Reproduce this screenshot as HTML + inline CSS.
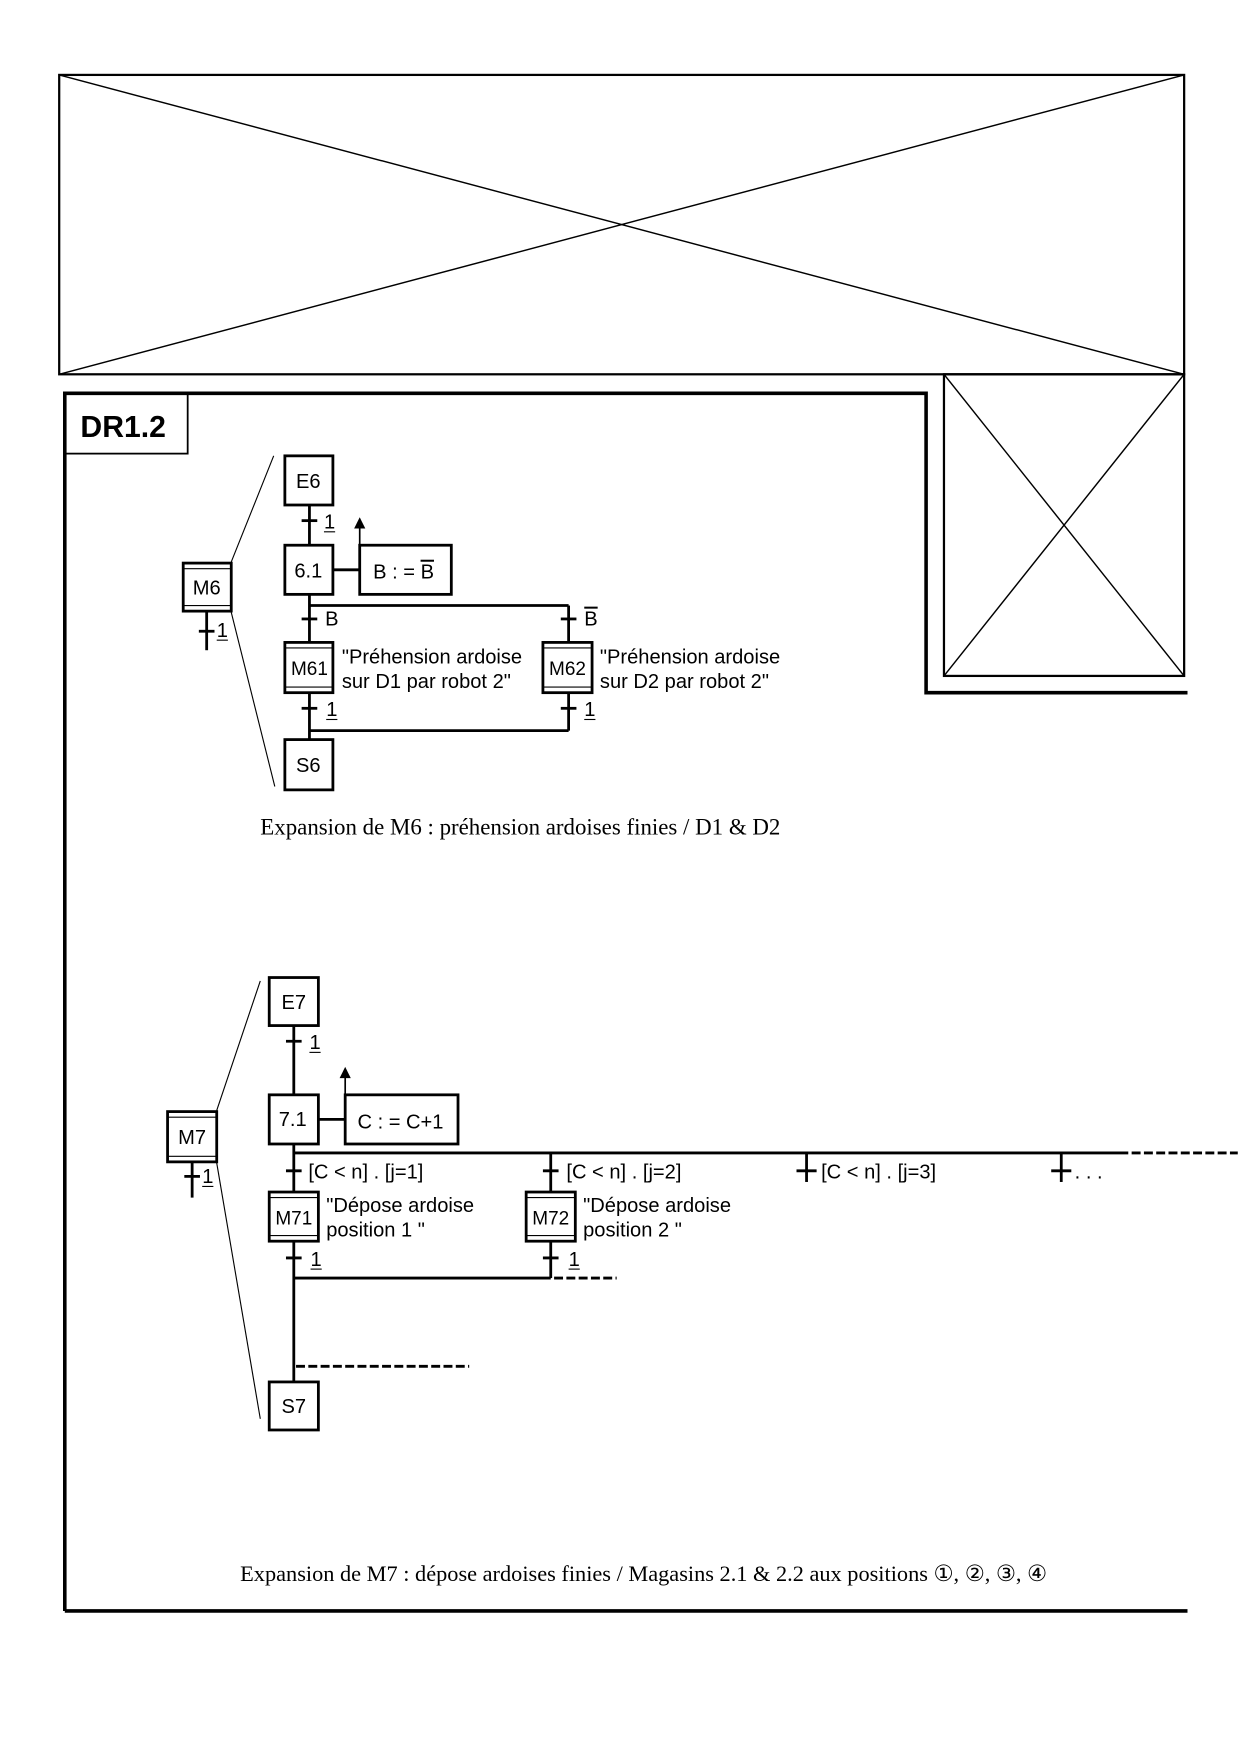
<!DOCTYPE html>
<html><head><meta charset="utf-8"><style>
html,body{margin:0;padding:0;background:#fff}
svg{display:block}
text{font-family:"Liberation Sans",sans-serif;fill:#000}
.s{font-family:"Liberation Serif",serif}
.ov{text-decoration:overline}
</style></head><body>
<svg width="1240" height="1754" viewBox="0 0 1110 1570" xmlns="http://www.w3.org/2000/svg">
<g fill="none" stroke="#000">
<rect x="53" y="67" width="1007" height="268" stroke-width="2"/>
<line x1="53" y1="67" x2="1060" y2="335" stroke-width="1.3"/>
<line x1="53" y1="335" x2="1060" y2="67" stroke-width="1.3"/>
<rect x="845" y="335" width="215" height="270" stroke-width="2"/>
<line x1="845" y1="335" x2="1060" y2="605" stroke-width="1.3"/>
<line x1="845" y1="605" x2="1060" y2="335" stroke-width="1.3"/>
<polyline points="58,1442 58,352 829,352 829,620 1063,620" stroke-width="3.2"/>
<line x1="58" y1="1442" x2="1063" y2="1442" stroke-width="3.2"/>
<rect x="58" y="352" width="110" height="54" stroke-width="1.6"/>

<g stroke-width="2.5">
<line x1="277" y1="452" x2="277" y2="488"/>
<line x1="270" y1="466" x2="284" y2="466"/>
<line x1="298" y1="510" x2="322" y2="510"/>
<line x1="277" y1="532" x2="277" y2="575"/>
<line x1="277" y1="542" x2="509" y2="542"/>
<line x1="509" y1="542" x2="509" y2="575"/>
<line x1="270" y1="554" x2="284" y2="554"/>
<line x1="502" y1="554" x2="516" y2="554"/>
<line x1="277" y1="620" x2="277" y2="662"/>
<line x1="509" y1="620" x2="509" y2="654"/>
<line x1="277" y1="654" x2="509" y2="654"/>
<line x1="270" y1="634" x2="284" y2="634"/>
<line x1="502" y1="634" x2="516" y2="634"/>
<rect x="255" y="408" width="43" height="44"/>
<rect x="255" y="488" width="43" height="44"/>
<rect x="322" y="488" width="82" height="44"/>
<rect x="255" y="575" width="43" height="45"/>
<rect x="486" y="575" width="44" height="45"/>
<rect x="255" y="662" width="43" height="45"/>
<rect x="164" y="504" width="43" height="43"/>
<line x1="185" y1="547" x2="185" y2="582"/>
<line x1="178" y1="565" x2="192" y2="565"/>
</g>
<line x1="322" y1="488" x2="322" y2="470" stroke-width="1.5"/>
<g stroke-width="1">
<line x1="255" y1="580" x2="298" y2="580"/><line x1="255" y1="615" x2="298" y2="615"/>
<line x1="486" y1="580" x2="530" y2="580"/><line x1="486" y1="615" x2="530" y2="615"/>
<line x1="164" y1="509" x2="207" y2="509"/><line x1="164" y1="542" x2="207" y2="542"/>
<line x1="207" y1="503" x2="245" y2="408"/><line x1="207" y1="548" x2="246" y2="704"/>
</g>

<g stroke-width="2.5">
<line x1="263" y1="918" x2="263" y2="980"/>
<line x1="256" y1="932" x2="270" y2="932"/>
<line x1="285" y1="1002" x2="309" y2="1002"/>
<line x1="263" y1="1024" x2="263" y2="1067"/>
<line x1="263" y1="1032" x2="1010" y2="1032"/>
<line x1="1013" y1="1032" x2="1108" y2="1032" stroke-dasharray="8,3"/>
<line x1="493" y1="1032" x2="493" y2="1067"/>
<line x1="722" y1="1032" x2="722" y2="1058"/>
<line x1="950" y1="1032" x2="950" y2="1058"/>
<line x1="256" y1="1048" x2="270" y2="1048"/>
<line x1="486" y1="1048" x2="500" y2="1048"/>
<line x1="713" y1="1048" x2="731" y2="1048"/>
<line x1="941" y1="1048" x2="959" y2="1048"/>
<line x1="263" y1="1111" x2="263" y2="1237"/>
<line x1="493" y1="1111" x2="493" y2="1144"/>
<line x1="256" y1="1126" x2="270" y2="1126"/>
<line x1="486" y1="1126" x2="500" y2="1126"/>
<line x1="263" y1="1144" x2="493" y2="1144"/>
<line x1="496" y1="1144" x2="552" y2="1144" stroke-dasharray="8,3"/>
<line x1="265" y1="1223" x2="420" y2="1223" stroke-dasharray="8,3"/>
<rect x="241" y="875" width="44" height="43"/>
<rect x="241" y="980" width="44" height="44"/>
<rect x="309" y="980" width="101" height="44"/>
<rect x="241" y="1067" width="44" height="44"/>
<rect x="471" y="1067" width="44" height="44"/>
<rect x="241" y="1237" width="44" height="43"/>
<rect x="150" y="995" width="44" height="45"/>
<line x1="172" y1="1040" x2="172" y2="1072"/>
<line x1="165" y1="1053" x2="179" y2="1053"/>
</g>
<line x1="309" y1="980" x2="309" y2="962" stroke-width="1.5"/>
<g stroke-width="1">
<line x1="241" y1="1072" x2="285" y2="1072"/><line x1="241" y1="1106" x2="285" y2="1106"/>
<line x1="471" y1="1072" x2="515" y2="1072"/><line x1="471" y1="1106" x2="515" y2="1106"/>
<line x1="150" y1="1000" x2="194" y2="1000"/><line x1="150" y1="1035" x2="194" y2="1035"/>
<line x1="194" y1="994" x2="233" y2="878"/><line x1="194" y1="1041" x2="233" y2="1270"/>
</g>
</g>
<polygon points="322,463 317,473 327,473" fill="#000"/>
<polygon points="309,955 304,965 314,965" fill="#000"/>

<text x="72" y="391" font-size="27" font-weight="bold">DR1.2</text>
<g font-size="18">
<text x="276" y="437" text-anchor="middle">E6</text>
<text x="276" y="517" text-anchor="middle">6.1</text>
<text x="334" y="518">B : = <tspan class="ov">B</tspan></text>
<text x="277" y="604" text-anchor="middle" font-size="17">M61</text>
<text x="508" y="604" text-anchor="middle" font-size="17">M62</text>
<text x="276" y="691" text-anchor="middle">S6</text>
<text x="185" y="532" text-anchor="middle">M6</text>
<text x="290" y="473">1</text><line x1="290" y1="476" x2="300" y2="476" stroke="#000"/>
<text x="291" y="560">B</text>
<text x="523" y="560" class="ov">B</text>
<text x="306" y="594">"Préhension ardoise</text>
<text x="306" y="616">sur D1 par robot 2"</text>
<text x="537" y="594">"Préhension ardoise</text>
<text x="537" y="616">sur D2 par robot 2"</text>
<text x="292" y="641">1</text><line x1="292" y1="644" x2="302" y2="644" stroke="#000"/>
<text x="523" y="641">1</text><line x1="523" y1="644" x2="533" y2="644" stroke="#000"/>
<text x="194" y="570">1</text><line x1="194" y1="573" x2="204" y2="573" stroke="#000"/>

<text x="263" y="903" text-anchor="middle">E7</text>
<text x="262" y="1008" text-anchor="middle">7.1</text>
<text x="320" y="1010">C : = C+1</text>
<text x="263" y="1096" text-anchor="middle" font-size="17">M71</text>
<text x="493" y="1096" text-anchor="middle" font-size="17">M72</text>
<text x="263" y="1265" text-anchor="middle">S7</text>
<text x="172" y="1024" text-anchor="middle">M7</text>
<text x="277" y="939">1</text><line x1="277" y1="942" x2="287" y2="942" stroke="#000"/>
<text x="181" y="1059">1</text><line x1="181" y1="1062" x2="191" y2="1062" stroke="#000"/>
<text x="276" y="1055">[C &lt; n] . [j=1]</text>
<text x="507" y="1055">[C &lt; n] . [j=2]</text>
<text x="735" y="1055">[C &lt; n] . [j=3]</text>
<text x="962" y="1055">. . .</text>
<text x="292" y="1085">"Dépose ardoise</text>
<text x="292" y="1107">position 1 "</text>
<text x="522" y="1085">"Dépose ardoise</text>
<text x="522" y="1107">position 2 "</text>
<text x="278" y="1133">1</text><line x1="278" y1="1136" x2="288" y2="1136" stroke="#000"/>
<text x="509" y="1133">1</text><line x1="509" y1="1136" x2="519" y2="1136" stroke="#000"/>
</g>
<text class="s" x="233" y="747" font-size="20.5">Expansion de M6 : préhension ardoises finies / D1 &amp; D2</text>
<text class="s" x="215" y="1415" font-size="20">Expansion de M7 : dépose ardoises finies / Magasins 2.1 &amp; 2.2 aux positions ①, ②, ③, ④</text>
</svg>
</body></html>
